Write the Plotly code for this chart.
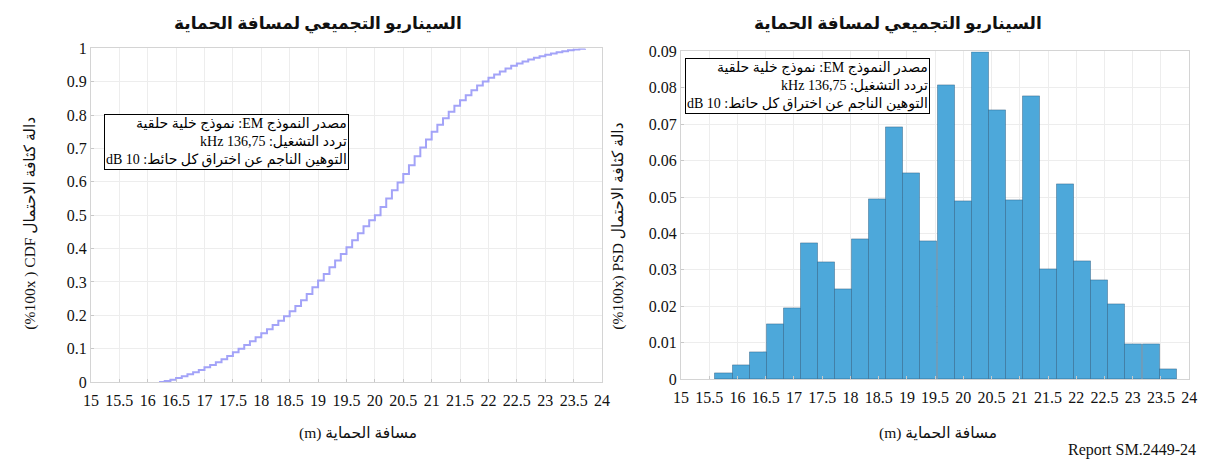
import plotly.graph_objects as go

# ---------------- data ----------------
x_ticks = [15, 15.5, 16, 16.5, 17, 17.5, 18, 18.5, 19, 19.5, 20, 20.5, 21, 21.5, 22, 22.5, 23, 23.5, 24]
x_tick_text = ["15", "15.5", "16", "16.5", "17", "17.5", "18", "18.5", "19", "19.5", "20", "20.5",
               "21", "21.5", "22", "22.5", "23", "23.5", "24"]
cdf_y_ticks = [0, 0.1, 0.2, 0.3, 0.4, 0.5, 0.6, 0.7, 0.8, 0.9, 1]
cdf_y_text = ["0", "0.1", "0.2", "0.3", "0.4", "0.5", "0.6", "0.7", "0.8", "0.9", "1"]
psd_y_ticks = [0, 0.01, 0.02, 0.03, 0.04, 0.05, 0.06, 0.07, 0.08, 0.09]
psd_y_text = ["0", "0.01", "0.02", "0.03", "0.04", "0.05", "0.06", "0.07", "0.08", "0.09"]

cdf_x = [16.2, 16.3, 16.4, 16.5, 16.6, 16.7, 16.8, 16.9, 17.0, 17.1, 17.2, 17.3, 17.4, 17.5, 17.6,
         17.7, 17.8, 17.9, 18.0, 18.1, 18.2, 18.3, 18.4, 18.5, 18.6, 18.7, 18.8, 18.9, 19.0, 19.1,
         19.2, 19.3, 19.4, 19.5, 19.6, 19.7, 19.8, 19.9, 20.0, 20.1, 20.2, 20.3, 20.4, 20.5, 20.6,
         20.7, 20.8, 20.9, 21.0, 21.1, 21.2, 21.3, 21.4, 21.5, 21.6, 21.7, 21.8, 21.9, 22.0, 22.1,
         22.2, 22.3, 22.4, 22.5, 22.6, 22.7, 22.8, 22.9, 23.0, 23.1, 23.2, 23.3, 23.4, 23.5, 23.6, 23.7]
cdf_y = [0.000, 0.003, 0.007, 0.012, 0.017, 0.023, 0.029, 0.036, 0.044, 0.051, 0.059, 0.068, 0.078,
         0.089, 0.100, 0.111, 0.122, 0.134, 0.146, 0.158, 0.171, 0.184, 0.197, 0.212, 0.228, 0.245,
         0.264, 0.284, 0.304, 0.324, 0.344, 0.364, 0.384, 0.404, 0.425, 0.446, 0.467, 0.485, 0.500,
         0.525, 0.550, 0.575, 0.598, 0.624, 0.650, 0.677, 0.703, 0.727, 0.750, 0.771, 0.791, 0.810,
         0.828, 0.845, 0.860, 0.875, 0.889, 0.901, 0.912, 0.922, 0.931, 0.940, 0.948, 0.955, 0.961,
         0.967, 0.972, 0.977, 0.981, 0.985, 0.989, 0.992, 0.995, 0.997, 0.999, 1.000]

# Histogram (probability per bin)
bin_centers = [15.761, 16.064, 16.366, 16.669, 16.971, 17.274, 17.576, 17.879, 18.181, 18.484,
               18.786, 19.089, 19.391, 19.694, 19.996, 20.299, 20.601, 20.904, 21.206, 21.509,
               21.811, 22.114, 22.416, 22.719, 23.021, 23.324, 23.626]
bin_width = 0.3025
psd_vals = [0.0017, 0.0037, 0.0074, 0.0151, 0.0195, 0.0374, 0.0320, 0.0246, 0.0383, 0.0494,
            0.0690, 0.0565, 0.0379, 0.0807, 0.0488, 0.0898, 0.0738, 0.0492, 0.0777, 0.0302,
            0.0534, 0.0322, 0.0271, 0.0206, 0.0096, 0.0096, 0.0028]

title_text = "السيناريو التجميعي لمسافة الحماية"
x_title = "(m) مسافة الحماية"
cdf_y_title = "(%100x ) CDF دالة كثافة الاحتمال"
psd_y_title = "(%100x) PSD دالة كثافة الاحتمال"
box_lines = ["مصدر النموذج EM: نموذج خلية حلقية",
             "تردد التشغيل: 136,75 kHz",
             "التوهين الناجم عن اختراق كل حائط: 10 dB"]
source_label = "Report SM.2449-24"

# ---------------- figure ----------------
W, H = 1214, 471
SERIF = "Liberation Serif, Times New Roman, DejaVu Sans, serif"

def px_x(p):
    return p / W

def px_y(p):
    return 1 - p / H

fig = go.Figure()

fig.add_trace(go.Scatter(x=cdf_x, y=cdf_y, mode="lines", line=dict(color="#a3a3f8", width=2, shape="hv"),
                         xaxis="x", yaxis="y", showlegend=False, hoverinfo="skip"))
fig.add_trace(go.Bar(x=bin_centers, y=psd_vals, width=bin_width,
                     marker=dict(color="#4da8da", line=dict(color="rgba(30,80,120,0.42)", width=1)),
                     xaxis="x2", yaxis="y2", showlegend=False, hoverinfo="skip"))

axis_common = dict(showgrid=True, gridcolor="#ededed", gridwidth=1, zeroline=False,
                   showline=True, linecolor="#d4d4d4", linewidth=1, mirror=True,
                   ticks="inside", ticklen=3, tickcolor="#c8c8c8",
                   tickfont=dict(family=SERIF, size=16, color="#111"))

fig.update_layout(
    width=W, height=H,
    margin=dict(l=0, r=0, t=0, b=0),
    paper_bgcolor="white", plot_bgcolor="white",
    bargap=0,
    hovermode=False,
    xaxis=dict(domain=[px_x(84), px_x(602)], range=[15, 24], tickmode="array", tickvals=x_ticks,
               ticktext=x_tick_text, tickangle=0, anchor="y", ticklabelstandoff=4, **axis_common),
    yaxis=dict(domain=[px_y(388), px_y(42)], range=[0, 1], tickmode="array", tickvals=cdf_y_ticks,
               ticktext=cdf_y_text, anchor="x", **axis_common),
    xaxis2=dict(domain=[px_x(682), px_x(1197)], range=[15, 24], tickmode="array", tickvals=x_ticks,
                ticktext=x_tick_text, tickangle=0, anchor="y2", ticklabelstandoff=4, **axis_common),
    yaxis2=dict(domain=[px_y(385), px_y(45)], range=[0, 0.09], tickmode="array", tickvals=psd_y_ticks,
                ticktext=psd_y_text, anchor="x2", **axis_common),
)

ann = []
# titles
for cx in (314, 902):
    ann.append(dict(x=px_x(cx), y=px_y(17), xref="paper", yref="paper", text="<b>" + title_text + "</b>",
                    showarrow=False, xanchor="center", yanchor="middle",
                    font=dict(family=SERIF, size=17, color="#111")))
# x titles
for cx in (355, 942):
    ann.append(dict(x=px_x(cx), y=px_y(441), xref="paper", yref="paper", text=x_title,
                    showarrow=False, xanchor="center", yanchor="middle",
                    font=dict(family=SERIF, size=15.5, color="#111")))
# y titles
ann.append(dict(x=px_x(22), y=px_y(223), xref="paper", yref="paper", text=cdf_y_title, textangle=-90,
                showarrow=False, xanchor="center", yanchor="middle",
                font=dict(family=SERIF, size=15.5, color="#111")))
ann.append(dict(x=px_x(618), y=px_y(226), xref="paper", yref="paper", text=psd_y_title, textangle=-90,
                showarrow=False, xanchor="center", yanchor="middle",
                font=dict(family=SERIF, size=15.5, color="#111")))
# info boxes
box_text = "<br>".join("\u2067" + s + "\u2069" for s in box_lines)
for (x0, y0) in ((97, 110), (686, 52)):
    ann.append(dict(x=px_x(x0), y=px_y(y0), xref="paper", yref="paper", text=box_text,
                    showarrow=False, xanchor="left", yanchor="top", align="right",
                    bordercolor="#000", borderwidth=1, borderpad=1, bgcolor="white",
                    font=dict(family=SERIF, size=14, color="#000")))
# source
ann.append(dict(x=px_x(1206), y=px_y(459), xref="paper", yref="paper", text=source_label,
                showarrow=False, xanchor="right", yanchor="middle",
                font=dict(family=SERIF, size=16, color="#111")))

fig.update_layout(annotations=ann)
fig.write_html("out.html", config={"displayModeBar": False},
               post_script="document.body.style.margin='0px';")
